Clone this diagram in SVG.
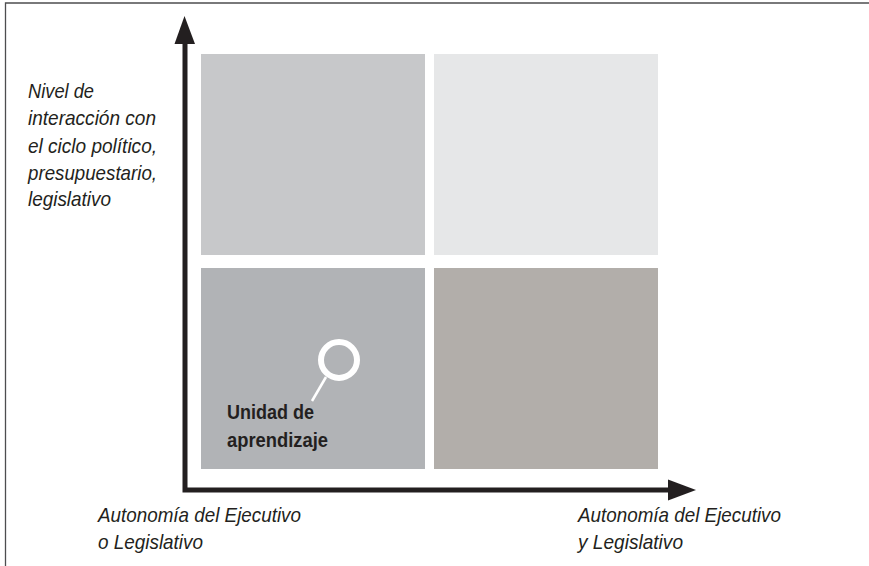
<svg xmlns="http://www.w3.org/2000/svg" width="869" height="566" viewBox="0 0 869 566">
<style>
text{font-family:"Liberation Sans",Arial,sans-serif;fill:#231f20}
.i{font-style:italic;font-size:21px}
.b{font-weight:bold;font-size:21px}
.axis{stroke:#231f20;stroke-width:5;fill:none}
</style>
<rect width="869" height="566" fill="#fff"/>
<path d="M5.500 566V3H869" fill="none" stroke="#4d4d4f" stroke-width="1.300"/>
<g id="q-top-left"><rect x="201" y="54" width="224" height="201" fill="#c7c8ca"/></g>
<g id="q-top-right"><rect x="434" y="54" width="224" height="201" fill="#e6e7e8"/></g>
<g id="q-bottom-left"><rect x="201" y="268" width="224" height="201" fill="#b1b3b6"/></g>
<g id="q-bottom-right"><rect x="434" y="268" width="224" height="201" fill="#b2aeaa"/></g>
<g id="connectors">
<path class="axis" d="M185 40V490H672"/>
<path d="M184.5 16L195 44H174.500Z" fill="#231f20"/>
<path d="M696 490L668 479.500V500.500Z" fill="#231f20"/>
</g>
<g id="marker">
<circle cx="339" cy="360" r="18" fill="none" stroke="#fff" stroke-width="6"/>
<path d="M326 377L312 401" stroke="#fff" stroke-width="2.500" fill="none"/>
</g>
<g id="label-unit">
<text class="b" x="227" y="419" textLength="87" lengthAdjust="spacingAndGlyphs">Unidad de</text>
<text class="b" x="227" y="447" textLength="101" lengthAdjust="spacingAndGlyphs">aprendizaje</text>
</g>
<g id="label-y">
<text class="i" x="28" y="98" textLength="66" lengthAdjust="spacingAndGlyphs">Nivel de</text>
<text class="i" x="28" y="125" textLength="128" lengthAdjust="spacingAndGlyphs">interacción con</text>
<text class="i" x="28" y="153" textLength="129" lengthAdjust="spacingAndGlyphs">el ciclo político,</text>
<text class="i" x="28" y="180" textLength="129" lengthAdjust="spacingAndGlyphs">presupuestario,</text>
<text class="i" x="28" y="206" textLength="83" lengthAdjust="spacingAndGlyphs">legislativo</text>
</g>
<g id="label-x-left">
<text class="i" x="98" y="522" textLength="203" lengthAdjust="spacingAndGlyphs">Autonomía del Ejecutivo</text>
<text class="i" x="98" y="549" textLength="105" lengthAdjust="spacingAndGlyphs">o Legislativo</text>
</g>
<g id="label-x-right">
<text class="i" x="578" y="522" textLength="203" lengthAdjust="spacingAndGlyphs">Autonomía del Ejecutivo</text>
<text class="i" x="578" y="549" textLength="105" lengthAdjust="spacingAndGlyphs">y Legislativo</text>
</g>
</svg>
